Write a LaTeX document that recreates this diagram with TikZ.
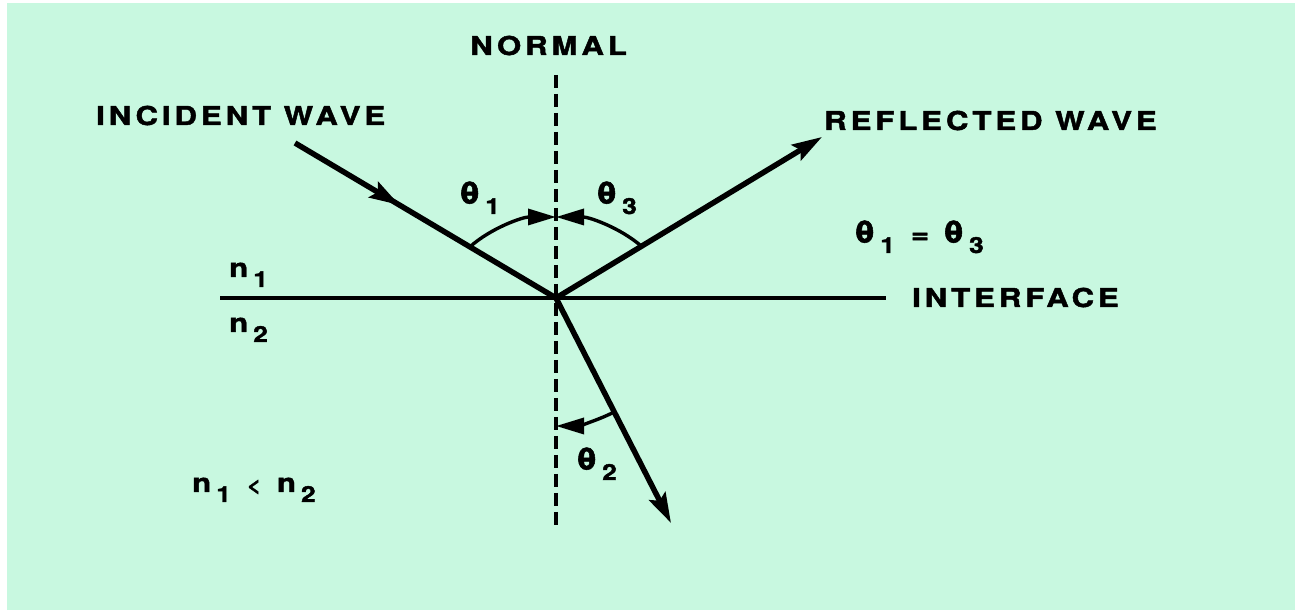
\documentclass[tikz,border=0pt]{standalone}
\usepackage{fontspec}
\setmainfont{TeX Gyre Heros}[LetterSpace=15, FakeStretch=1.2, BoldFeatures={FakeBold=1.8}]
\usetikzlibrary{arrows.meta,decorations.markings,calc}
\definecolor{bgmint}{RGB}{200,248,224}
\newcommand{\lowsub}[1]{\hspace{5pt}\raisebox{-10pt}{\fontsize{22}{22}\selectfont #1}}
\newcommand{\thet}{{\fontsize{31}{31}\selectfont θ}}
\begin{document}
\begin{tikzpicture}[x=1pt,y=1pt,
  ray/.style={line width=5.5pt},
  iface/.style={line width=3.6pt},
  normline/.style={line width=4.2pt, dash pattern=on 13pt off 6pt},
  anglearc/.style={line width=3.4pt},
  bigtip/.style={-{Stealth[length=30pt,width=18pt,inset=5pt]}},
  angtip/.style={-{Triangle[length=28pt,width=16pt]}},
  midarrow/.style={postaction={decorate},
    decoration={markings, mark=at position 0.4 with {\arrow{Stealth[length=30pt,width=18pt,inset=5pt]}}}},
  lbl/.style={inner sep=0pt, font=\fontsize{26}{26}\selectfont\bfseries}]
\useasboundingbox (0,0) rectangle (1295,610);
\fill[white] (0,0) rectangle (1295,610);
\fill[bgmint] (7,0) rectangle (1295,607);

\coordinate (O) at (556,312);
\coordinate (ntop) at (556,535);
\coordinate (nbot) at (556,85);
\coordinate (ifl) at (220,312);
\coordinate (ifr) at (886,312);
\coordinate (inc) at (295,467);
\coordinate (refl) at (822,473);
\coordinate (refr) at (671,87);

\draw[normline] (ntop) -- (nbot);
\draw[iface] (ifl) -- (ifr);
\draw[ray, midarrow] (inc) -- (O);
\draw[ray, bigtip] (O) -- (refl);
\draw[ray, bigtip] (O) -- (refr);

\path (O) ++(140.9:111pt and 81pt) coordinate (a1);
\path (O) ++(39.7:111pt and 81pt) coordinate (a3);
\path (O) ++(-62.9:128pt) coordinate (a2);
\draw[anglearc, angtip] (a1) arc[start angle=140.9, end angle=90, x radius=111pt, y radius=81pt];
\draw[anglearc, angtip] (a3) arc[start angle=39.7, end angle=90, x radius=111pt, y radius=81pt];
\draw[anglearc, angtip] (a2) arc[start angle=-62.9, end angle=-90, radius=128pt];

\node[lbl, anchor=base west] (incl) at (96,485) {INCIDENT WAVE};
\node[lbl, anchor=base west] (norml) at (470,555) {NORMAL};
\node[lbl, anchor=base west] (refll) at (824,480) {REFLECTED WAVE};
\node[lbl, anchor=base west] (ifl2) at (912,303) {INTERFACE};
\node[lbl, anchor=base west] (eq) at (854,367) {\thet\lowsub{1}\hspace{16pt}=\hspace{14pt}\thet\lowsub{3}};
\node[lbl, anchor=base west] (t1) at (459,406) {\thet\lowsub{1}};
\node[lbl, anchor=base west] (t3) at (596,406) {\thet\lowsub{3}};
\node[lbl, anchor=base west] (t2) at (576,140) {\thet\lowsub{2}};
\node[lbl, anchor=base west] (n1) at (229,333) {n\lowsub{1}};
\node[lbl, anchor=base west] (n2) at (229,278) {n\lowsub{2}};
\node[lbl, anchor=base west] (ineq) at (192,118) {n\lowsub{1}\hspace{16pt}{\fontsize{20}{20}\selectfont <}\hspace{16pt}n\lowsub{2}};
\end{tikzpicture}
\end{document}
